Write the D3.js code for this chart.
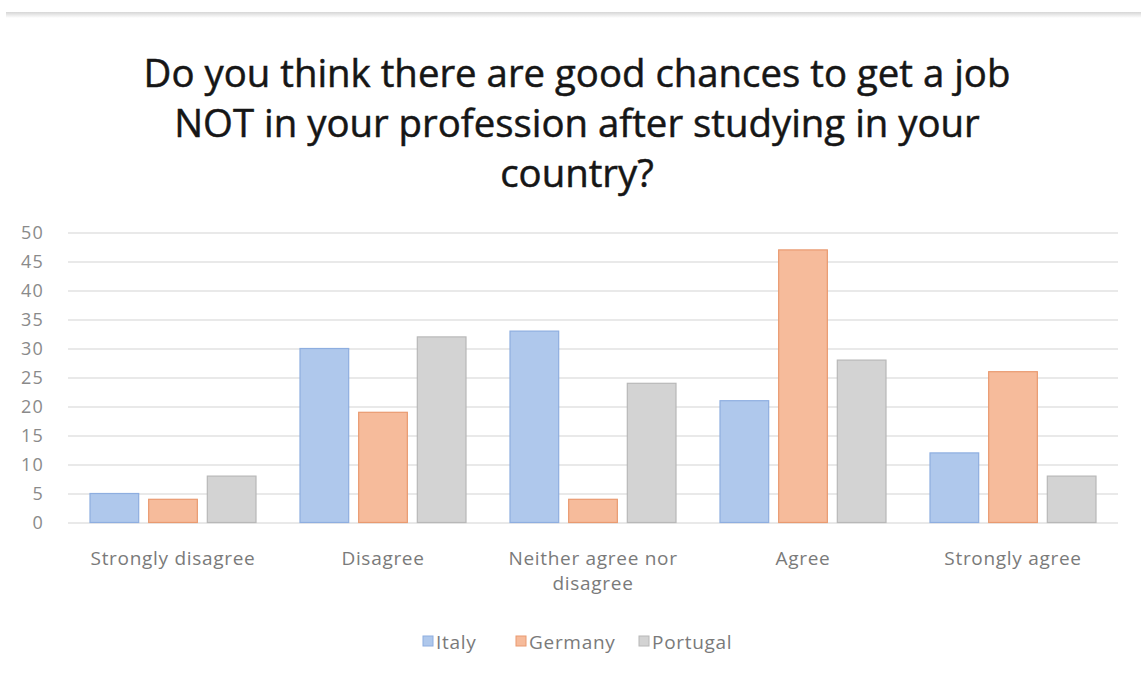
<!DOCTYPE html>
<html>
<head>
<meta charset="utf-8">
<script src="https://cdn.jsdelivr.net/npm/d3@7"></script>
<style>
  html, body { margin: 0; padding: 0; background: #ffffff; }
  svg { display: block; }
</style>
</head>
<body>
<svg id="chart" width="1141" height="677"></svg>
<script>
// Survey answers per country
const categories = ["Strongly disagree", "Disagree", "Neither agree nor disagree", "Agree", "Strongly agree"];
const seriesNames = ["Italy", "Germany", "Portugal"];
const italy    = [5, 30, 33, 21, 12];
const germany  = [4, 19, 4, 47, 26];
const portugal = [8, 32, 24, 28, 8];
const yTicks = [0, 5, 10, 15, 20, 25, 30, 35, 40, 45, 50];
const titleLines = [
  "Do you think there are good chances to get a job",
  "NOT in your profession after studying in your",
  "country?"
];

const values = [italy, germany, portugal];
const fills   = ["#afc8ec", "#f6bb9b", "#d3d3d3"];
const strokes = ["#8eaee0", "#e99a70", "#b8b8b8"];
const font = "'Open Sans', 'Liberation Sans', sans-serif";

const svg = d3.select("#chart");

// card edge along the top
const defs = svg.append("defs");
const grad = defs.append("linearGradient").attr("id", "edge").attr("x1", 0).attr("y1", 0).attr("x2", 0).attr("y2", 1);
grad.append("stop").attr("offset", "0%").attr("stop-color", "#d6d6d6");
grad.append("stop").attr("offset", "100%").attr("stop-color", "#ffffff");
svg.append("rect").attr("x", 6).attr("y", 12).attr("width", 1135).attr("height", 6).attr("fill", "url(#edge)");

// title
const title = svg.append("g").attr("font-family", font).attr("fill", "#161616")
  .attr("stroke", "#161616").attr("stroke-width", 0.5).attr("text-anchor", "middle");
titleLines.forEach((t, i) => {
  title.append("text").attr("x", 577).attr("y", 87 + i * 50).attr("font-size", 33).text(t);
});
// fit the first line to its width
const first = title.select("text").node();
const w = first.getComputedTextLength();
const fs = 33 * 867 / w;
title.selectAll("text").attr("font-size", fs);

const x0 = d3.scaleBand().domain(categories).range([68, 1118]).paddingInner(0).paddingOuter(0);
const y = d3.scaleLinear().domain([0, 50]).range([522.5, 232.5]);

// gridlines
const grid = svg.append("g")
  .attr("transform", "translate(68,0)")
  .call(d3.axisLeft(y).tickValues(yTicks).tickSize(-1050).tickFormat(""));
grid.select(".domain").remove();
grid.selectAll("line").attr("stroke", "#e2e2e2").attr("stroke-width", 1.3);

// y tick labels
const yAxis = svg.append("g")
  .attr("transform", "translate(44,0)")
  .call(d3.axisLeft(y).tickValues(yTicks).tickSize(0).tickPadding(0));
yAxis.select(".domain").remove();
yAxis.selectAll("text").attr("font-family", font).attr("font-size", 18).attr("letter-spacing", 1.2)
  .attr("fill", "#8a8a8a").attr("x", 0).attr("dy", "0.35em");

// bars
const x1 = d3.scaleBand().domain(seriesNames).range([22, x0.bandwidth() - 22]).paddingInner(0.17);
const groups = svg.append("g").selectAll("g").data(categories).join("g")
  .attr("transform", d => `translate(${x0(d)},0)`);
groups.selectAll("rect")
  .data((c, ci) => seriesNames.map((s, si) => ({ s, si, v: values[si][ci] })))
  .join("rect")
  .attr("x", d => x1(d.s))
  .attr("y", d => y(d.v))
  .attr("width", x1.bandwidth())
  .attr("height", d => y(0) - y(d.v))
  .attr("fill", d => fills[d.si])
  .attr("stroke", d => strokes[d.si])
  .attr("stroke-width", 1.2);

// category labels
const xAxis = svg.append("g").attr("font-family", font).attr("font-size", 19).attr("letter-spacing", 0.7)
  .attr("fill", "#7a7a7a").attr("text-anchor", "middle");
const wrapped = { "Neither agree nor disagree": ["Neither agree nor", "disagree"] };
categories.forEach(c => {
  const lines = wrapped[c] || [c];
  lines.forEach((l, i) => {
    xAxis.append("text")
      .attr("x", x0(c) + x0.bandwidth() / 2)
      .attr("y", 565 + i * 25)
      .text(l);
  });
});

// legend
const legend = svg.append("g").attr("font-family", font).attr("font-size", 19).attr("letter-spacing", 0.7)
  .attr("fill", "#7a7a7a");
const legendX = [423, 516, 639];
seriesNames.forEach((s, i) => {
  legend.append("rect").attr("x", legendX[i]).attr("y", 636).attr("width", 10).attr("height", 10)
    .attr("fill", fills[i]).attr("stroke", strokes[i]);
  legend.append("text").attr("x", legendX[i] + 13).attr("y", 649).text(s);
});
</script>
</body>
</html>
